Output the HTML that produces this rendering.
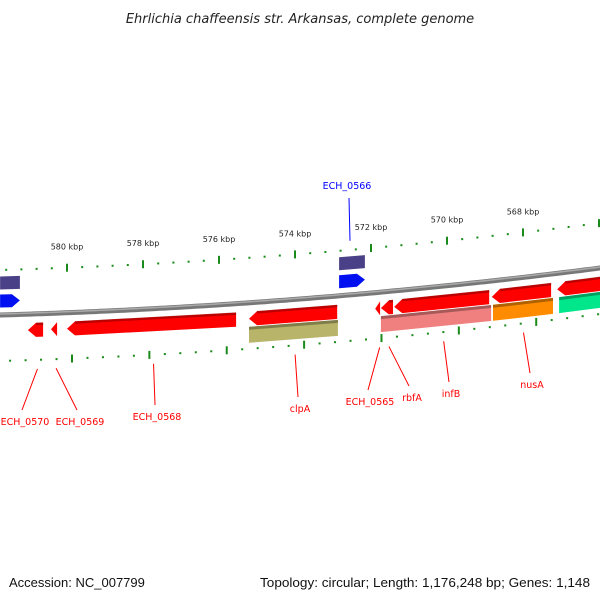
<!DOCTYPE html>
<html><head><meta charset="utf-8"><style>
body{margin:0;background:#fff}
svg{display:block;font-family:"DejaVu Sans","Liberation Sans",sans-serif}
</style></head><body>
<svg id="map" width="600" height="600" viewBox="0 0 600 600" xmlns="http://www.w3.org/2000/svg">
<text x="300" y="23" text-anchor="middle" font-size="13" font-style="italic" fill="#222">Ehrlichia chaffeensis str. Arkansas, complete genome</text>
<text x="9" y="587" font-size="13" fill="#111" font-family="Liberation Sans, sans-serif">Accession: NC_007799</text>
<text x="260" y="587" textLength="330" lengthAdjust="spacingAndGlyphs" font-size="13" fill="#111" font-family="Liberation Sans, sans-serif">Topology: circular; Length: 1,176,248 bp; Genes: 1,148</text>
<g id="layer"></g>
</svg>
<script>
// tick data (kbp)
const majorTicks = [580, 578, 576, 574, 572, 570, 568];
const tickLabels = ["580 kbp","578 kbp","576 kbp","574 kbp","572 kbp","570 kbp","568 kbp"];
// lower-strand genes (start/end kbp)
const geneStarts = [581.03, 580.42, 580.0, 575.21, 571.89, 571.74, 571.39, 568.82, 567.1];
const geneEnds   = [580.63, 580.26, 575.55, 572.89, 571.76, 571.42, 568.89, 567.26, 565.0];
const geneNames  = ["ECH_0570","ECH_0569","ECH_0568","clpA","ECH_0565","rbfA","infB","nusA",""];
const cogStarts = [575.21, 571.74, 568.79, 567.05];
const cogEnds   = [572.87, 568.84, 567.21, 565.0];
const cogColors = ["#b8b46a","#f08080","#ff8c00","#00e68a"];
// upper-strand genes
const topStarts = [581.76, 572.84];
const topEnds   = [581.24, 572.16];
const topNames  = ["","ECH_0566"];

const NS="http://www.w3.org/2000/svg";
const layer=document.getElementById('layer');
function xs(k){return 67+(580-k)*38;}
function curve(x){return 315-0.0283*x-0.0000833*x*x;}
function mk(tag,attrs){const e=document.createElementNS(NS,tag);for(const a in attrs)e.setAttribute(a,attrs[a]);layer.appendChild(e);return e;}
function band(x1,x2,off,h){return [[x1,curve(x1)+off-h/2],[x2,curve(x2)+off-h/2],[x2,curve(x2)+off+h/2],[x1,curve(x1)+off+h/2]];}
function arrow(x1,x2,off,h,dir){
  const a=Math.min(8,Math.abs(x2-x1));const t=h/2;
  if(dir<0){return [[x1,curve(x1)+off],[x1+a,curve(x1+a)+off-t],[x2,curve(x2)+off-t],[x2,curve(x2)+off+t],[x1+a,curve(x1+a)+off+t]];}
  return [[x2,curve(x2)+off],[x2-a,curve(x2-a)+off-t],[x1,curve(x1)+off-t],[x1,curve(x1)+off+t],[x2-a,curve(x2-a)+off+t]];}
function P(p){return p.map(q=>q[0].toFixed(1)+','+q[1].toFixed(1)).join(' ');}

// backbone
let d='';for(let x=-5;x<=605;x+=5){d+=(x===-5?'M':'L')+x+','+curve(x).toFixed(1);}
let bb=mk('path',{d:d,stroke:'#777',fill:'none','stroke-width':5});


let bb2=mk('path',{d:d,stroke:'#aaa',fill:'none','stroke-width':1.5,transform:'translate(0,-1)'});



// ticks
for(let k=582;k>=565;k-=0.4){
  const kk=Math.round(k*10)/10;
  const major=Math.abs(kk/2-Math.round(kk/2))<0.01;
  [[-45,1],[46,1.018]].forEach(([off,sc],i)=>{
    const x=67+(580-kk)*38*sc+(i?5:0);if(x<0||x>600)return;
    const y=curve(x)+off;
    const r=mk('rect',major?{x:x-1,y:y-4,width:2,height:8,fill:'#1a8a1a'}:{x:x-1,y:y-1,width:2,height:2,fill:'#1a8a1a'});
    
    
  });
}
majorTicks.forEach((k,i)=>{const x=xs(k);
  const t=mk('text',{x:x,y:(curve(x)-63).toFixed(1),'text-anchor':'middle','font-size':8,fill:'#222'});
  t.textContent=tickLabels[i];
  
  });

// upper genes
topStarts.forEach((s,i)=>{const x1=xs(s),x2=xs(topEnds[i]);
  const b=mk('polygon',{points:P(band(x1,x2,-32,13)),fill:'#4a4088'});
  
  
  const a=mk('polygon',{points:P(arrow(x1,x2,-14,13,1)),fill:'#0010f0'});
  
  
  if(topNames[i]){const cx=(x1+x2)/2;
    const l=mk('line',{x1:cx-2,y1:curve(cx)-54,x2:cx-3,y2:198,stroke:'#0000ff','stroke-width':1});
    
    
    const t=mk('text',{x:cx-5,y:189,'text-anchor':'middle','font-size':9.5,fill:'#0000ff'});t.textContent=topNames[i];
    
    }
});
// cog boxes lower
cogStarts.forEach((s,i)=>{const x1=xs(s),x2=xs(cogEnds[i]);
  const b=mk('polygon',{points:P(band(x1,x2,32,16)),fill:cogColors[i]});
  
  
  const s2=mk('polygon',{points:P(band(x1,x2,25.5,3)),fill:'#000',opacity:0.3});
  
  });
// lower genes
const labelPos=[[25,425],[80,425],[157,420],[300,412],[370,405],[412,401],[451,397],[532,388]];
geneStarts.forEach((s,i)=>{const x1=xs(s),x2=xs(geneEnds[i]);
  const a=mk('polygon',{points:P(arrow(x1,x2,16,14,-1)),fill:'#ff0000'});
  
  
  const h=mk('polygon',{points:P(band(x1+Math.min(8,x2-x1),x2,10,2.5)),fill:'#a00000',opacity:0.7});
  
  
  if(geneNames[i]){const cx=(x1+x2)/2;const lp=labelPos[i];
    const l=mk('line',{x1:cx+2,y1:curve(cx)+55,x2:lp[0]+(i<2?-3:(i>=4&&i<6?(i==4?-2:-3):-2)),y2:lp[1]-15,stroke:'#ff0000','stroke-width':1});
    
    
    const t=mk('text',{x:lp[0],y:lp[1],'text-anchor':'middle','font-size':9.5,fill:'#ff0000'});t.textContent=geneNames[i];
    
    }
});
</script>
</body></html>
